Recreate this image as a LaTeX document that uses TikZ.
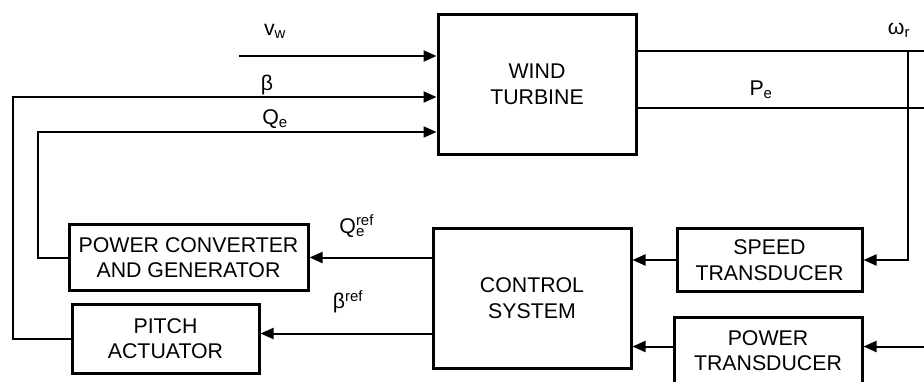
\documentclass[tikz,border=0pt]{standalone}
\usepackage{fontspec}
\setmainfont{Liberation Sans}
\usetikzlibrary{arrows.meta}
\begin{document}
\begin{tikzpicture}[x=1pt,y=-1pt,
  blk/.style={draw, line width=3pt, align=center, inner sep=0pt, font=\fontsize{21.3}{25.6}\selectfont},
  sig/.style={line width=2pt, -{Triangle[length=13pt,width=11pt]}},
  wire/.style={line width=2pt},
  thinw/.style={line width=1.6pt},
  lbl/.style={font=\fontsize{21.3}{25.6}\selectfont, inner sep=0pt}]
\useasboundingbox (0,0) rectangle (924,381);
\clip (0,0) rectangle (924,381);
% blocks
\node[blk, minimum width=198pt, minimum height=140pt] (WT) at (537,84) {WIND\\TURBINE};
\node[blk, minimum width=198pt, minimum height=140pt] (CS) at (532,298) {CONTROL\\SYSTEM};
\node[blk, minimum width=239pt, minimum height=66pt] (PC) at (188.5,257.5) {POWER CONVERTER\\AND GENERATOR};
\node[blk, minimum width=187pt, minimum height=69pt] (PA) at (165.5,338.5) {PITCH\\ACTUATOR};
\node[blk, minimum width=185pt, minimum height=63pt] (ST) at (769.5,260) {SPEED\\TRANSDUCER};
\node[blk, minimum width=188pt, minimum height=67pt] (PT) at (768,350.5) {POWER\\TRANSDUCER};
% coordinates
\coordinate (vw) at (239,56);
\coordinate (b) at (13,97);
\coordinate (q) at (38,132);
\coordinate (wr) at (924,51);
\coordinate (vx) at (908,51);
\coordinate (pe) at (924,108);
\coordinate (pt) at (924,346.5);
\coordinate (ba) at (433,333.5);
% inputs of wind turbine
\draw[sig] (vw) -- (vw -| WT.west);
\draw[sig] (PA.west) -| (b) -- (b -| WT.west);
\draw[sig] (PC.west) -| (q) -- (q -| WT.west);
% outputs
\draw[thinw] (WT.east |- wr) -- (wr);
\draw[thinw] (WT.east |- pe) -- (pe);
\draw[wire] (vx) |- ([xshift=8pt]ST.east);
\draw[sig] ([xshift=8pt]ST.east) -- (ST.east);
\draw[sig] (pt) -- (pt -| PT.east);
% transducers to control
\draw[sig] (ST.west) -- (ST.west -| CS.east);
\draw[sig] (pt -| PT.west) -- (pt -| CS.east);
% control outputs
\draw[sig] (PC.east -| CS.west) -- (PC.east);
\draw[sig] (ba -| CS.west) -- (ba -| PA.east);
% labels
\node[lbl] (Lvw) at (275,31) {v\textsubscript{w}};
\node[lbl] (Lb) at (267,85) {β};
\node[lbl] (Lq) at (275,119) {Q\textsubscript{e}};
\node[lbl] (Lw) at (899,30) {ω\textsubscript{r}};
\node[lbl] (Lpe) at (761,90) {P\textsubscript{e}};
\node[lbl] (Lqr) at (361,226) {Q\rlap{\textsuperscript{ref}}\textsubscript{e}\hphantom{ef}};
\node[lbl] (Lbr) at (348,302) {β\textsuperscript{ref}};
\end{tikzpicture}
\end{document}
